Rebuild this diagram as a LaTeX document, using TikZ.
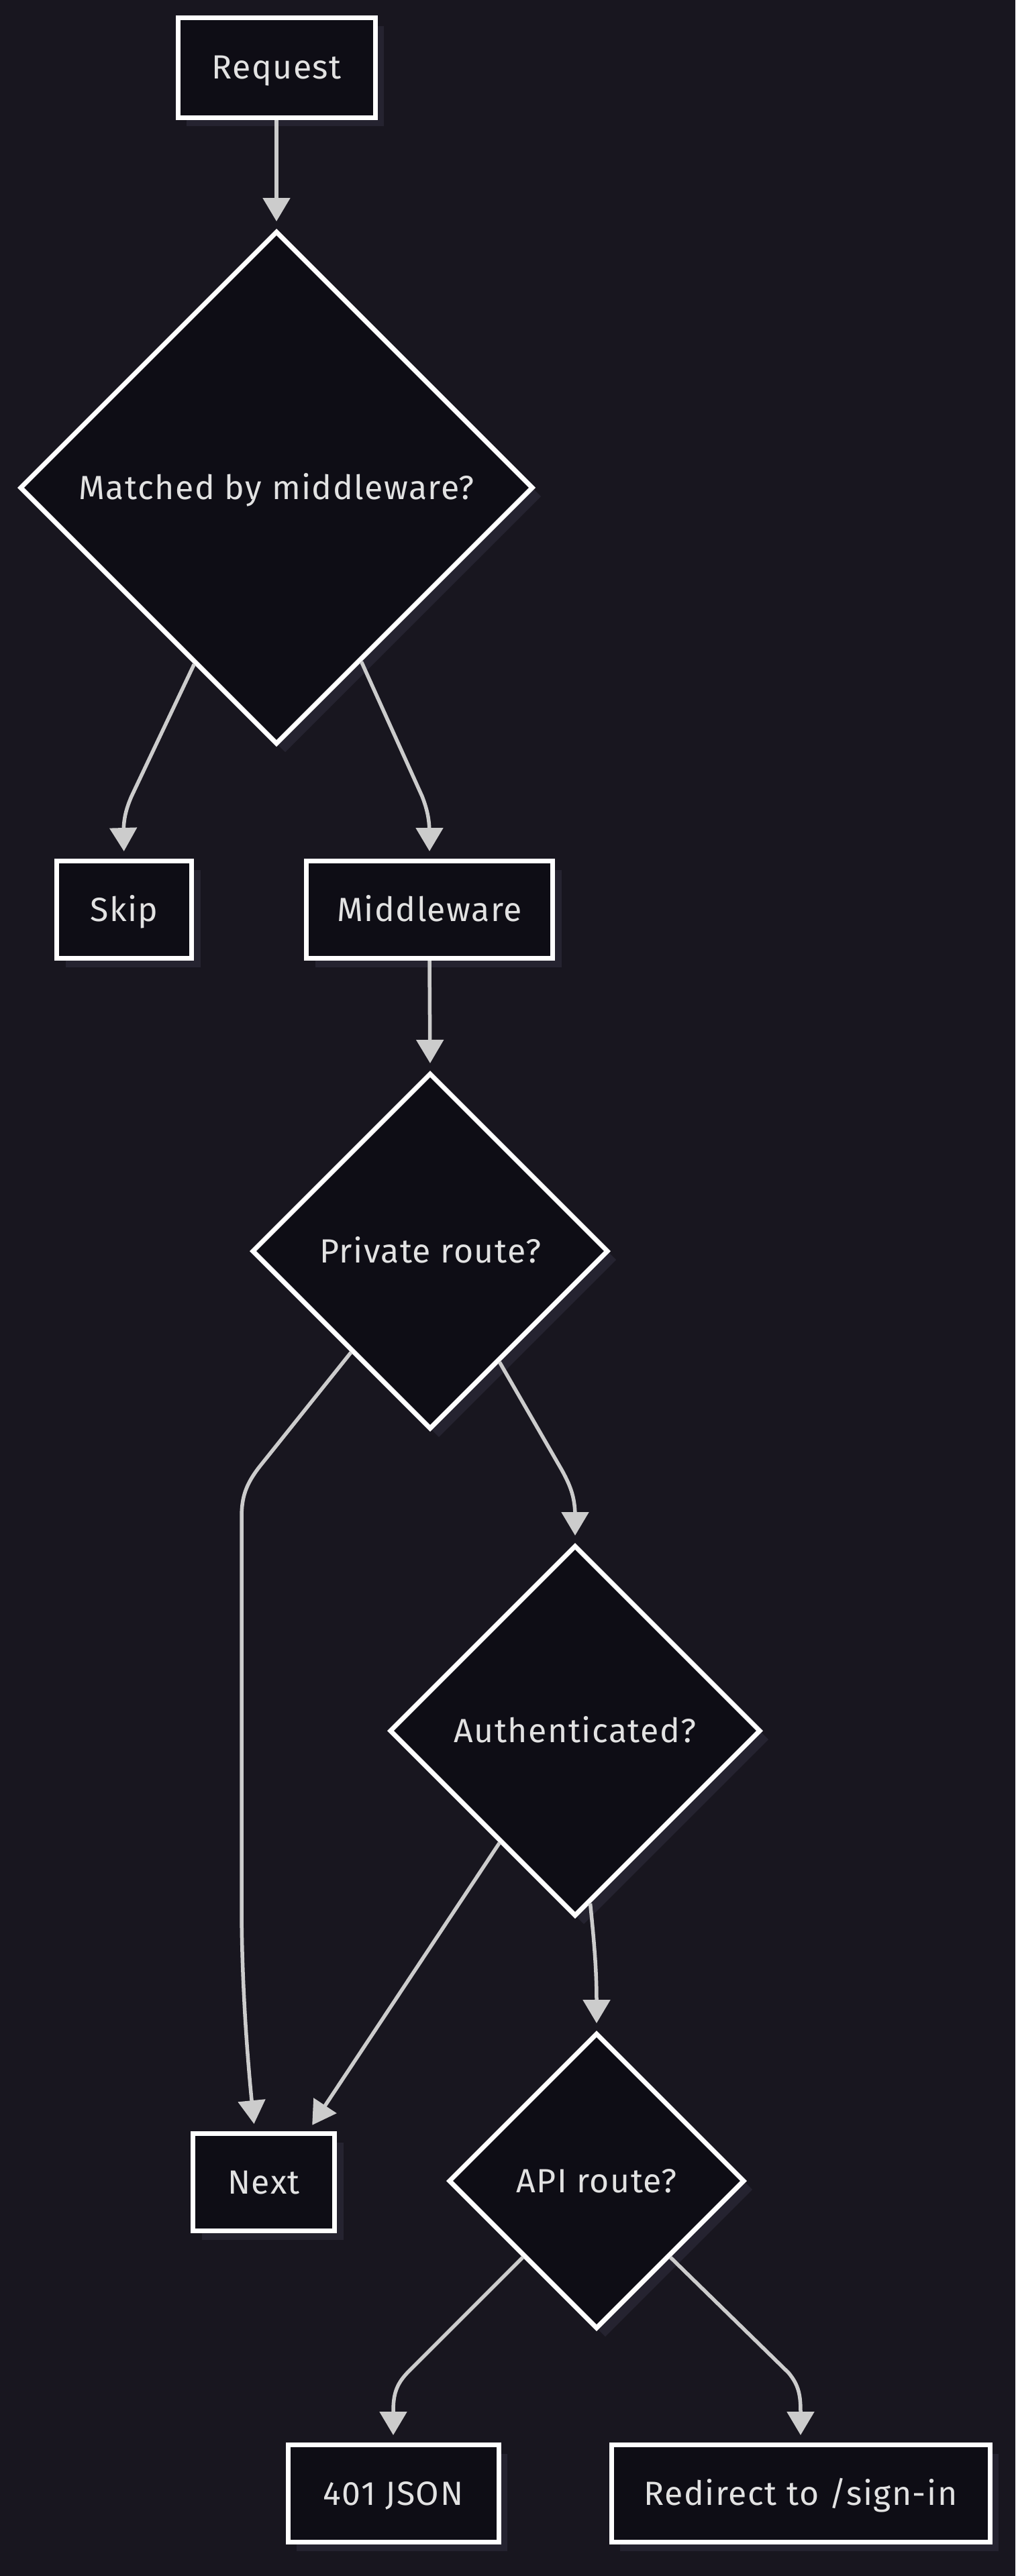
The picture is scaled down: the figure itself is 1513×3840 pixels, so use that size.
\documentclass[tikz,border=0pt]{standalone}
\usepackage{fontspec}
\setmainfont[LetterSpace=3]{Fira Sans}
\usetikzlibrary{shapes.geometric,arrows.meta,shadows,calc}
\definecolor{bgc}{HTML}{18161F}
\definecolor{fillc}{HTML}{0E0D15}
\definecolor{shc}{HTML}{252330}
\definecolor{linec}{HTML}{CCCCCC}
\definecolor{txtc}{HTML}{E2E2E2}
\tikzset{
  base/.style={draw=white, line width=7pt, fill=fillc, text=txtc,
    font=\fontsize{50}{60}\selectfont, text height=40pt, text depth=6pt,
    drop shadow={shadow xshift=13pt, shadow yshift=-13pt, fill=shc, opacity=1}},
  box/.style={base, rectangle, minimum height=145pt, inner sep=0pt},
  dia/.style={base, diamond, aspect=1, inner sep=0pt},
  arr/.style={draw=linec, line width=5.5pt, -{Triangle[length=35pt,width=40pt]}, shorten >=11pt}
}
\begin{document}
\begin{tikzpicture}[x=1pt,y=-1pt]
\fill[bgc] (0,0) rectangle (1513,3840);
\useasboundingbox (0,0) rectangle (1513,3840);

\node[box, minimum width=294pt, minimum height=149pt] (req) at (412,101) {Request};
\node[dia, minimum size=765pt] (d1) at (412,727) {Matched by middleware?};
\node[box, minimum width=201pt] (skip) at (185,1356) {Skip};
\node[box, minimum width=367pt] (mw) at (640,1356) {Middleware};
\node[dia, minimum size=531pt] (d2) at (641,1865) {Private route?};
\node[dia, minimum size=553pt] (d3) at (857,2580) {Authenticated?};
\node[box, minimum width=211pt] (nx) at (393,3253) {Next};
\node[dia, minimum size=441pt] (d4) at (889,3251) {API route?};
\node[box, minimum width=314pt] (j401) at (586,3717) {401 JSON};
\node[box, minimum width=564pt] (rd) at (1193,3717) {Redirect to /sign-in};

\draw[arr] (req.south) -- (d1.north);
\draw[arr] (d1.245) -- (196,1187) .. controls (186,1210) and (184,1225) .. (184,1245) -- (skip.north);
\draw[arr] (d1.296) -- (629,1187) .. controls (638,1210) and (640,1225) .. (640,1245) -- (mw.north);
\draw[arr] (mw.south) -- (d2.north);
\draw[arr] (d2.232) -- (387,2186) .. controls (366,2213) and (360,2232) .. (360,2262) -- (360,2840) .. controls (360,2950) and (368,3060) .. (nx.100);
\draw[arr] (d2.302) -- (837,2191) .. controls (852,2218) and (857,2235) .. (857,2262) -- (d3.north);
\draw[arr] (d3.236) -- (nx.49);
\draw[arr] (d3.275) .. controls (886,2900) and (889,2940) .. (d4.north);
\draw[arr] (d4.226) -- (607,3537) .. controls (590,3555) and (586,3570) .. (586,3595) -- (j401.north);
\draw[arr] (d4.314) -- (1175,3537) .. controls (1190,3555) and (1193,3570) .. (1193,3595) -- (rd.north);
\end{tikzpicture}
\end{document}
